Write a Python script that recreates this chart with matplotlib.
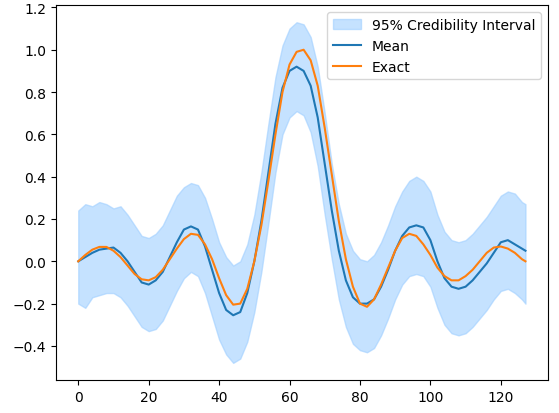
import matplotlib.pyplot as plt

x = [0, 2, 4, 6, 8, 10, 12, 14, 16, 18, 20, 22, 24, 26, 28, 30, 32, 34, 36, 38,
     40, 42, 44, 46, 48, 50, 52, 54, 56, 58, 60, 62, 64, 66, 68, 70, 72, 74, 76, 78,
     80, 82, 84, 86, 88, 90, 92, 94, 96, 98, 100, 102, 104, 106, 108, 110, 112, 114, 116, 118,
     120, 122, 124, 126, 127]

exact = [0.0, 0.03, 0.055, 0.068, 0.068, 0.05, 0.02, -0.02, -0.06, -0.085, -0.09, -0.075, -0.04, 0.01, 0.06, 0.105, 0.13, 0.125, 0.08, 0.01,
         -0.08, -0.16, -0.205, -0.2, -0.13, 0.0, 0.17, 0.38, 0.6, 0.8, 0.93, 0.99, 1.0, 0.95, 0.83, 0.63, 0.41, 0.19, 0.01, -0.12,
         -0.2, -0.215, -0.18, -0.11, -0.03, 0.05, 0.11, 0.13, 0.12, 0.08, 0.03, -0.03, -0.07, -0.09, -0.09, -0.07, -0.04, 0.0, 0.04, 0.065,
         0.07, 0.06, 0.04, 0.01, 0.0]

mean = [0.0, 0.02, 0.04, 0.055, 0.06, 0.065, 0.04, 0.0, -0.05, -0.1, -0.11, -0.09, -0.05, 0.02, 0.09, 0.15, 0.165, 0.15, 0.07, -0.04,
        -0.15, -0.23, -0.255, -0.24, -0.15, 0.0, 0.19, 0.42, 0.65, 0.82, 0.9, 0.92, 0.9, 0.83, 0.68, 0.46, 0.24, 0.05, -0.09, -0.17,
        -0.2, -0.2, -0.18, -0.12, -0.04, 0.05, 0.12, 0.16, 0.17, 0.16, 0.1, 0.0, -0.08, -0.12, -0.13, -0.12, -0.09, -0.05, -0.01, 0.04,
        0.09, 0.1, 0.08, 0.06, 0.05]

upper = [0.24, 0.27, 0.26, 0.28, 0.27, 0.25, 0.26, 0.22, 0.17, 0.12, 0.11, 0.13, 0.17, 0.24, 0.31, 0.35, 0.37, 0.36, 0.3, 0.2,
         0.09, 0.02, -0.02, 0.0, 0.08, 0.22, 0.42, 0.65, 0.87, 1.02, 1.1, 1.13, 1.12, 1.06, 0.92, 0.7, 0.46, 0.27, 0.13, 0.05,
         0.01, 0.0, 0.03, 0.09, 0.17, 0.26, 0.33, 0.38, 0.4, 0.38, 0.33, 0.22, 0.14, 0.1, 0.09, 0.1, 0.13, 0.17, 0.21, 0.26,
         0.31, 0.33, 0.32, 0.28, 0.27]

lower = [-0.2, -0.22, -0.17, -0.16, -0.15, -0.15, -0.17, -0.21, -0.26, -0.31, -0.33, -0.32, -0.28, -0.21, -0.14, -0.08, -0.05, -0.07, -0.15, -0.26,
         -0.37, -0.44, -0.48, -0.46, -0.38, -0.24, -0.05, 0.18, 0.42, 0.6, 0.68, 0.71, 0.69, 0.61, 0.45, 0.22, 0.01, -0.18, -0.31, -0.39,
         -0.42, -0.43, -0.41, -0.35, -0.27, -0.18, -0.11, -0.07, -0.06, -0.07, -0.12, -0.22, -0.3, -0.34, -0.35, -0.34, -0.31, -0.27, -0.23, -0.18,
         -0.14, -0.13, -0.15, -0.18, -0.2]

fig, ax = plt.subplots(figsize=(5.59, 4.14), dpi=100)
ax.fill_between(x, lower, upper, color="#9fcfff", alpha=0.6, label="95% Credibility Interval")
ax.plot(x, mean, color="#1f77b4", label="Mean")
ax.plot(x, exact, color="#ff7f0e", label="Exact")
ax.legend(loc="upper right")
plt.subplots_adjust(left=0.1, right=0.98, top=0.985, bottom=0.08)
plt.savefig("out.png")
